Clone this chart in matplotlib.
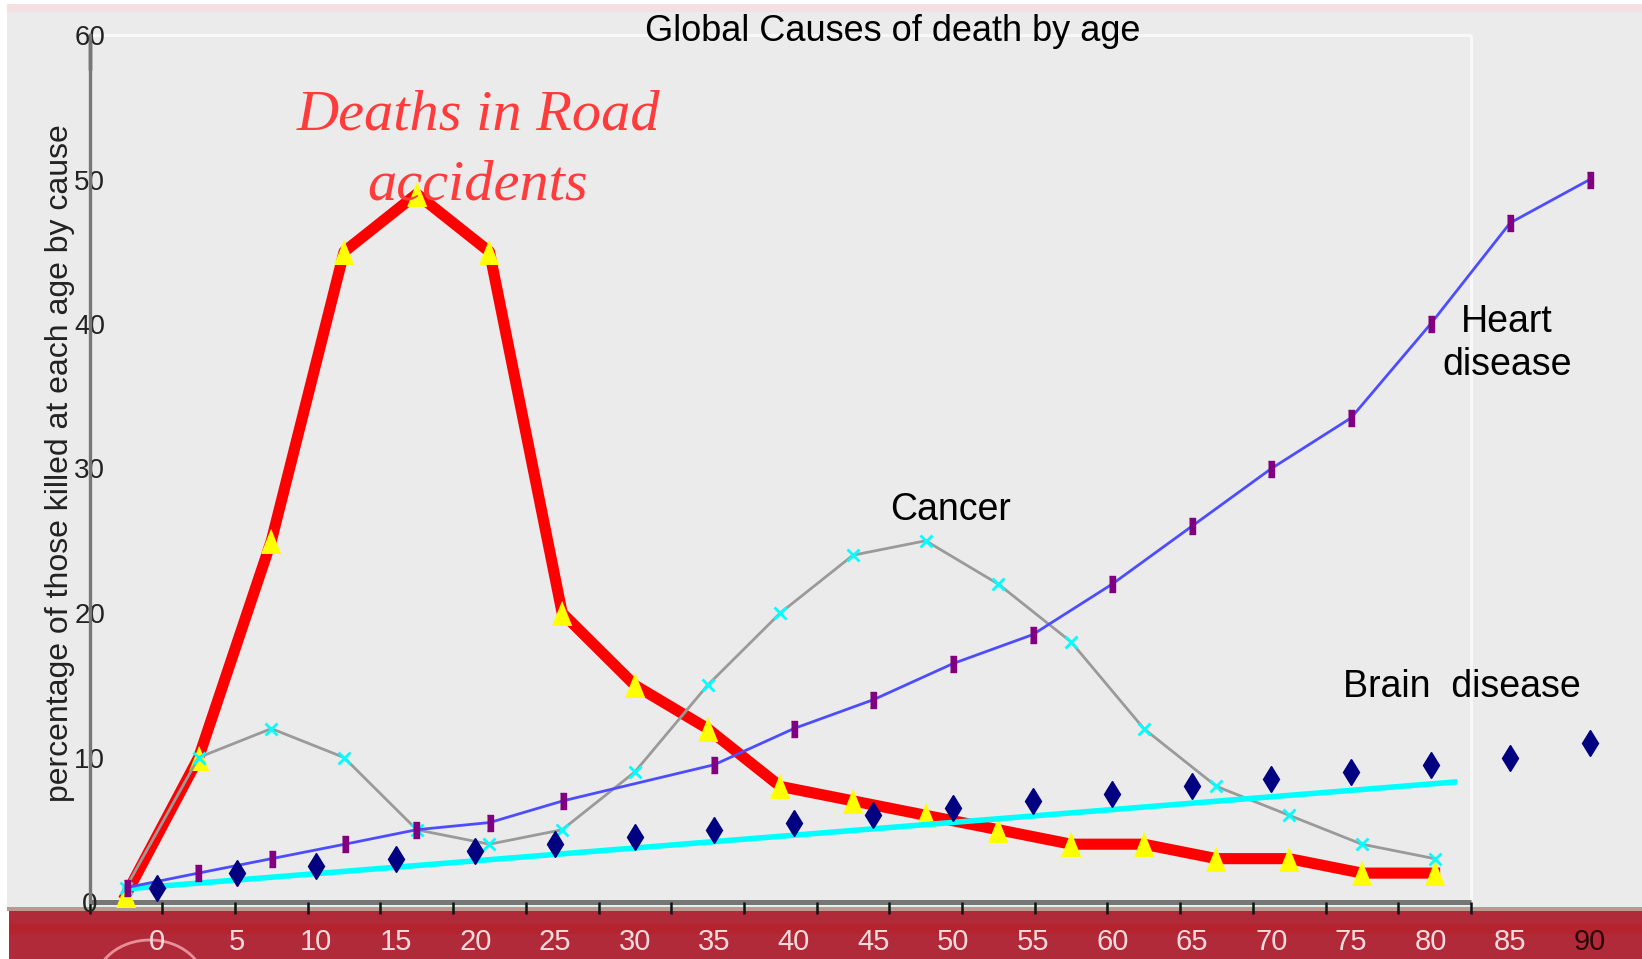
import matplotlib
matplotlib.use("Agg")
import matplotlib.pyplot as plt
from matplotlib.patches import Rectangle, Ellipse
import numpy as np

# ---------------- data ----------------
categories = list(range(19))          # category slots of the line chart
road_deaths = [0.5, 10, 25, 45, 49, 45, 20, 15, 12, 8, 7, 6, 5, 4, 4, 3, 3, 2, 2]
cancer = [1, 10, 12, 10, 5, 4, 5, 9, 15, 20, 24, 25, 22, 18, 12, 8, 6, 4, 3]
heart_ages = [-1.9, 2.6, 7.2, 11.8, 16.3, 20.9, 25.5, 35, 40, 45, 50, 55, 60, 65, 70, 75, 80, 85, 90]
heart = [1, 2, 3, 4, 5, 5.5, 7, 9.5, 12, 14, 16.5, 18.5, 22, 26, 30, 33.5, 40, 47, 50]
brain_ages = list(range(0, 95, 5))
brain = [1, 2, 2.5, 3, 3.5, 4, 4.5, 5, 5.5, 6, 6.5, 7, 7.5, 8, 8.5, 9, 9.5, 10, 11]
trend_ages = [-2, 81.5]
brain_trend = [0.9, 8.3]
age_ticks = list(range(0, 95, 5))
y_ticks = list(range(0, 70, 10))

# ---------------- figure ----------------
W, H = 1642, 959
fig = plt.figure(figsize=(W / 100, H / 100), dpi=100, facecolor="white")


def fx(px):
    return px / W


def fy(py):
    return 1 - py / H


def frect(x0, y0, x1, y1, color, z=-10):
    fig.patches.append(Rectangle((fx(x0), fy(y1)), fx(x1) - fx(x0), fy(y0) - fy(y1),
                                 transform=fig.transFigure, facecolor=color,
                                 edgecolor="none", zorder=z))


frect(7, 12, W, 907, "#EBEBEB")
frect(7, 4, W, 12, "#F6DFE3")
frect(7, 907, W, 911, "#BC9893")
frect(9, 911, W, H, "#B12A3A")
frect(9, 924, W, 934, "#B5232F", z=-9.5)
fig.patches.append(Ellipse((fx(150), fy(985)), fx(110), 90 / H, transform=fig.transFigure,
                           facecolor="none", edgecolor="#E8909A", lw=2, zorder=-9))

sans = "Liberation Sans"

# main (category) axes
cat_left_px, cat_step_px = 126, 72.7
ax = fig.add_axes([fx(89.6), fy(902), 1 - fx(89.6), fy(35) - fy(902)])
ax.set_facecolor("none")
ax.set_xlim(-0.5, (W - cat_left_px) / cat_step_px)
ax.set_ylim(0, 60)
for s in ["top", "right", "bottom"]:
    ax.spines[s].set_visible(False)
ax.spines["left"].set_color("#777777")
ax.spines["left"].set_linewidth(2.4)
ax.set_yticks(y_ticks)
ax.tick_params(axis="y", length=0, pad=0, labelsize=20, labelcolor="#222222")
for lbl in ax.get_yticklabels():
    lbl.set_ha("center")
    lbl.set_family(sans)
ax.set_xticks(np.arange(-0.5, 19.0, 1.0))
ax.tick_params(axis="x", direction="out", length=8.5, width=1.8, color="#111111",
               labelbottom=False)

# frame lines of plot area
ax.hlines(60, -0.5, 18.5, color="#F8F8F8", lw=2.2, clip_on=False, zorder=1)
ax.vlines(18.5, 0, 60, color="#F8F8F8", lw=2.2, clip_on=False, zorder=1)
ax.hlines(0, -0.5, 18.5, color="#767676", lw=3.6, clip_on=False, zorder=1.5)
ax.vlines(-0.5, 57.6, 60, color="#000000", lw=2.4, clip_on=False, zorder=1.5)

tri = [(0, 1), (-0.8, -1), (0.8, -1)]
ax.plot(categories, road_deaths, color="#FF0000", lw=8, marker=tri, ms=17,
        mfc="#FFFF00", mec="#FFFF00", zorder=2, clip_on=False)
ax.plot(categories, cancer, color="#9A9A9A", lw=2, marker="x", ms=8, mew=2,
        mec="#00FFFF", zorder=3, clip_on=False)

# age axes (tick labels)
age_left_px, age_step_px = 157, 15.92
ax_age = ax.twiny()
ax_age.set_xlim((89.6 - age_left_px) / age_step_px, (W - age_left_px) / age_step_px)
ax_age.set_ylim(0, 60)
for s in ax_age.spines.values():
    s.set_visible(False)
ax_age.xaxis.tick_bottom()
ax_age.set_xticks(age_ticks)
ax_age.set_xticklabels([str(a) for a in age_ticks])
ax_age.tick_params(axis="x", length=0, pad=19, labelsize=21, labelcolor="#F6DADD")
for lbl in ax_age.get_xticklabels():
    lbl.set_family(sans)
ax_age.get_xticklabels()[-1].set_color("#2A0808")

ibar = [(-0.45, -1), (0.45, -1), (0.45, 1), (-0.45, 1)]
ax_age.plot(trend_ages, brain_trend, color="#00FFFF", lw=4, zorder=2, clip_on=False)
ax_age.plot(heart_ages, heart, color="#4D4DFF", lw=2, marker=ibar, ms=11,
            mfc="#800080", mec="#800080", zorder=3, clip_on=False)
ax_age.plot(brain_ages, brain, ls="none", marker="d", ms=13.5, color="#000080",
            zorder=4, clip_on=False)

# ---------------- texts ----------------
fig.text(fx(893), fy(41), "Global Causes of death by age", ha="center", va="baseline",
         fontsize=26, family=sans, color="black")
fig.text(fx(478), fy(130), "Deaths in Road", ha="center", va="baseline", fontsize=42,
         family="Liberation Serif", style="italic", color="#FF3B3B")
fig.text(fx(478), fy(199), "accidents", ha="center", va="baseline", fontsize=42,
         family="Liberation Serif", style="italic", color="#FF3B3B")
fig.text(fx(950), fy(520), "Cancer", ha="center", va="baseline", fontsize=27,
         family=sans, color="black")
fig.text(fx(1507), fy(332), "Heart", ha="center", va="baseline", fontsize=27,
         family=sans, color="black")
fig.text(fx(1507), fy(375), "disease", ha="center", va="baseline", fontsize=27,
         family=sans, color="black")
fig.text(fx(1462), fy(697), "Brain  disease", ha="center", va="baseline", fontsize=27,
         family=sans, color="black")
fig.text(fx(60), fy(463), "percentage of those killed at each age by cause", rotation=90,
         ha="center", va="center", fontsize=23, family=sans, color="#222222")

fig.savefig("out.png", dpi=100, facecolor=fig.get_facecolor())
